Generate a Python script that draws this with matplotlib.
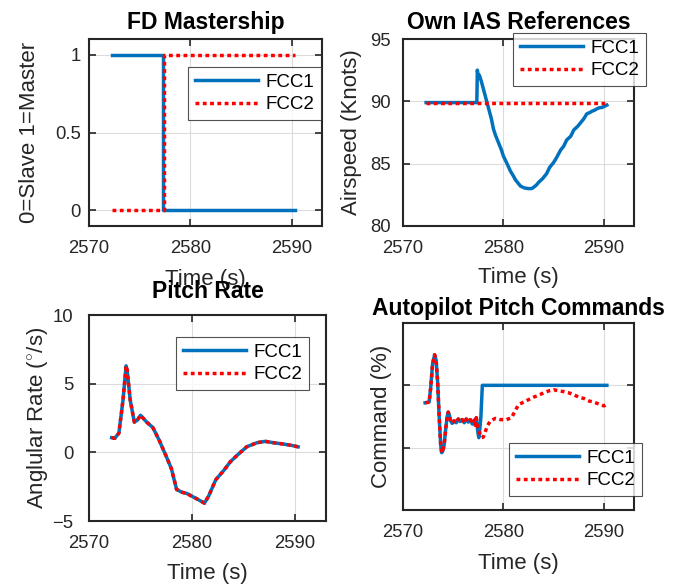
import matplotlib
matplotlib.use("Agg")
import matplotlib.pyplot as plt

plt.rcParams['font.family'] = ['Liberation Sans', 'DejaVu Sans']
plt.rcParams['mathtext.fontset'] = 'custom'
plt.rcParams['mathtext.rm'] = 'Liberation Sans'

BLUE = '#0072BD'
RED = '#FF0000'
DARK = '#262626'

### Daten
# FD Mastership
mast_t1 = [2572.3, 2577.35, 2577.35, 2590.3]
mast_fcc1 = [1, 1, 0, 0]
mast_t2 = [2572.3, 2577.45, 2577.45, 2590.3]
mast_fcc2 = [0, 0, 1, 1]

# Own IAS References
ias_t1 = [2572.3, 2577.35, 2577.4, 2577.5, 2577.6, 2577.8, 2578.0, 2578.3, 2578.6, 2578.8,
          2579.0, 2579.2, 2579.5, 2579.8, 2580.0, 2580.3, 2580.7, 2581.0, 2581.2, 2581.5,
          2581.7, 2582.1, 2582.5, 2582.8, 2583.0, 2583.3, 2583.5, 2583.9, 2584.3, 2584.6,
          2585.0, 2585.3, 2585.7, 2586.0, 2586.3, 2586.7, 2587.0, 2587.4, 2587.7, 2588.0,
          2588.3, 2588.6, 2588.8, 2589.1, 2589.3, 2589.6, 2589.8, 2590.3]
ias_fcc1 = [89.9, 89.9, 92.5, 92.0, 92.1, 91.6, 91.0, 90.1, 89.2, 88.6,
            87.8, 87.3, 86.7, 86.1, 85.6, 85.1, 84.4, 84.0, 83.7, 83.4,
            83.2, 83.05, 83.0, 83.0, 83.1, 83.3, 83.5, 83.8, 84.2, 84.7,
            85.1, 85.5, 86.1, 86.4, 86.9, 87.2, 87.7, 88.0, 88.3, 88.6,
            89.0, 89.1, 89.2, 89.3, 89.4, 89.5, 89.5, 89.7]
ias_t2 = [2572.3, 2590.3]
ias_fcc2 = [89.9, 89.9]

# Pitch Rate
q_t = [2572.2, 2572.5, 2572.9, 2573.3, 2573.6, 2573.7, 2574.0, 2574.4, 2574.7, 2575.0,
       2575.6, 2576.2, 2576.8, 2577.5, 2578.0, 2578.5, 2579.0, 2579.5, 2580.5, 2581.2,
       2581.6, 2582.3, 2583.1, 2583.7, 2584.4, 2585.3, 2586.3, 2587.1, 2587.9, 2588.9,
       2589.7, 2590.3]
q_fcc1 = [1.07, 1.02, 1.4, 3.8, 6.3, 6.0, 3.8, 2.2, 2.35, 2.7,
          2.2, 1.8, 0.9, -0.3, -1.2, -2.7, -2.9, -3.0, -3.4, -3.7,
          -3.2, -2.0, -1.3, -0.7, -0.2, 0.4, 0.7, 0.8, 0.7, 0.6,
          0.5, 0.4]
q_fcc2 = list(q_fcc1)

# Autopilot Pitch Commands
cmd_t1 = [2572.2, 2572.6, 2572.75, 2572.95, 2573.15, 2573.3, 2573.45, 2573.6, 2573.75,
          2573.85, 2573.95, 2574.1, 2574.25, 2574.4, 2574.5, 2574.6, 2574.75, 2574.9,
          2575.1, 2575.3, 2575.5, 2575.7, 2575.9, 2576.1, 2576.3, 2576.5, 2576.7,
          2576.9, 2577.1, 2577.2, 2577.3, 2577.45, 2577.55, 2577.65, 2577.75, 2577.9, 2590.3]
cmd_fcc1 = [17.2, 17.3, 19.5, 23.5, 24.9, 24.0, 20.5, 15.0, 10.5,
            9.2, 9.4, 10.5, 13.0, 15.0, 15.7, 15.3, 14.3, 13.9,
            14.3, 14.0, 14.6, 14.2, 14.5, 14.0, 14.6, 14.1, 14.5,
            13.8, 14.4, 13.6, 14.8, 12.5, 11.6, 13.0, 14.8, 20.0, 20.0]
cmd_t2 = cmd_t1[:31] + [2577.45, 2577.6, 2577.8, 2578.0, 2578.2, 2578.4, 2578.7, 2579.2,
                        2579.7, 2580.3, 2580.8, 2581.1, 2581.5, 2582.0, 2582.5, 2583.0,
                        2583.5, 2584.0, 2584.5, 2585.0, 2585.5, 2586.0, 2586.5, 2587.0,
                        2587.5, 2588.0, 2588.5, 2589.0, 2589.5, 2590.0, 2590.2]
cmd_fcc2 = cmd_fcc1[:31] + [13.2, 12.5, 11.6, 11.7, 12.6, 13.5, 14.3, 14.7,
                            14.5, 14.5, 14.8, 15.7, 16.9, 17.3, 17.7, 18.1,
                            18.4, 18.8, 19.1, 19.3, 19.1, 19.0, 18.8, 18.5,
                            18.1, 17.9, 17.5, 17.3, 17.0, 16.7, 16.9]

W, H = 685, 588
LABEL_FS = 16
TITLE_FS = 16.5
fig = plt.figure(figsize=(W / 100, H / 100), dpi=100)

# Achsen in Pixeln: links, rechts, oben, unten
boxes = [(89, 322, 39, 226), (403, 634, 39, 226), (89, 326, 315, 521), (403, 634, 323, 510)]
axs = []
for l, r, t, b in boxes:
    axs.append(fig.add_axes([l / W, 1 - b / H, (r - l) / W, (b - t) / H]))

def style(ax):
    for s in ax.spines.values():
        s.set_linewidth(1.5)
        s.set_color(DARK)
    ax.tick_params(direction='in', length=5, width=1.2, top=True, right=True,
                   labelsize=13.3, colors=DARK, labelcolor=DARK)
    ax.tick_params(axis='x', pad=10)
    ax.tick_params(axis='y', pad=6)
    ax.grid(True, color='#dcdcdc', linewidth=0.8)
    ax.set_axisbelow(True)
    ax.set_xlim(2570, 2593)
    ax.set_xticks([2570, 2580, 2590])

def legend(ax, x, y):
    leg = ax.legend(['FCC1', 'FCC2'], loc='upper left', bbox_to_anchor=(x / W, 1 - y / H),
                    bbox_transform=fig.transFigure, fontsize=13.5, frameon=True, fancybox=False,
                    handlelength=3.4, handletextpad=0.4, borderpad=0.35, labelspacing=0.3,
                    borderaxespad=0)
    leg.get_frame().set_edgecolor(DARK)
    leg.get_frame().set_linewidth(0.8)
    return leg

def plotPair(ax, t1, y1, t2, y2):
    ax.plot(t1, y1, color=BLUE, lw=2.5)
    ax.plot(t2, y2, color=RED, lw=2.5, dashes=(1.1, 1.0))

def labels(ax, title, ylabel, pad):
    ax.set_title(title, fontsize=TITLE_FS, fontweight='bold', pad=pad)
    ax.set_ylabel(ylabel, fontsize=LABEL_FS, color=DARK)
    ax.set_xlabel('Time (s)', fontsize=LABEL_FS, color=DARK)

# FD Mastership
ax = axs[0]
style(ax)
plotPair(ax, mast_t1, mast_fcc1, mast_t2, mast_fcc2)
ax.set_ylim(-0.1, 1.1)
ax.set_yticks([0, 0.5, 1])
ax.set_yticklabels(['0', '0.5', '1'])
labels(ax, 'FD Mastership', '0=Slave 1=Master', 7)
ax.yaxis.set_label_coords((30 - 89) / 233, 0.5)
ax.xaxis.set_label_coords(0.5, (226 - 280) / 187)
legend(ax, 188, 67)

# Own IAS References
ax = axs[1]
style(ax)
plotPair(ax, ias_t1, ias_fcc1, ias_t2, ias_fcc2)
ax.set_ylim(80, 95)
ax.set_yticks([80, 85, 90, 95])
labels(ax, 'Own IAS References', 'Airspeed (Knots)', 7)
ax.yaxis.set_label_coords((352 - 403) / 231, 0.5)
ax.xaxis.set_label_coords(0.5, (226 - 277) / 187)
ax.tick_params(axis='y', pad=9)
legend(ax, 513, 33)

# Pitch Rate
ax = axs[2]
style(ax)
plotPair(ax, q_t, q_fcc1, q_t, q_fcc2)
ax.set_ylim(-5, 10)
ax.set_yticks([-5, 0, 5, 10])
labels(ax, 'Pitch Rate', r'Anglular Rate ($^{\circ}$/s)', 12)
ax.yaxis.set_label_coords((38 - 89) / 237, 0.5)
ax.xaxis.set_label_coords(0.5, (521 - 574) / 206)
ax.tick_params(axis='y', pad=11)
legend(ax, 176, 337)

# Autopilot Pitch Commands
ax = axs[3]
style(ax)
plotPair(ax, cmd_t1, cmd_fcc1, cmd_t2, cmd_fcc2)
ax.set_ylim(0, 30)
ax.set_yticks([10, 20])
ax.set_yticklabels([])
labels(ax, 'Autopilot Pitch Commands', 'Command (%)', 6)
ax.yaxis.set_label_coords((381 - 403) / 231, 0.5)
ax.xaxis.set_label_coords(0.5, (510 - 563) / 187)
legend(ax, 509, 443)

for ax in axs:
    ax.yaxis.label.set_va('center')
    ax.xaxis.label.set_va('center')

fig.savefig('out.png', dpi=100)
